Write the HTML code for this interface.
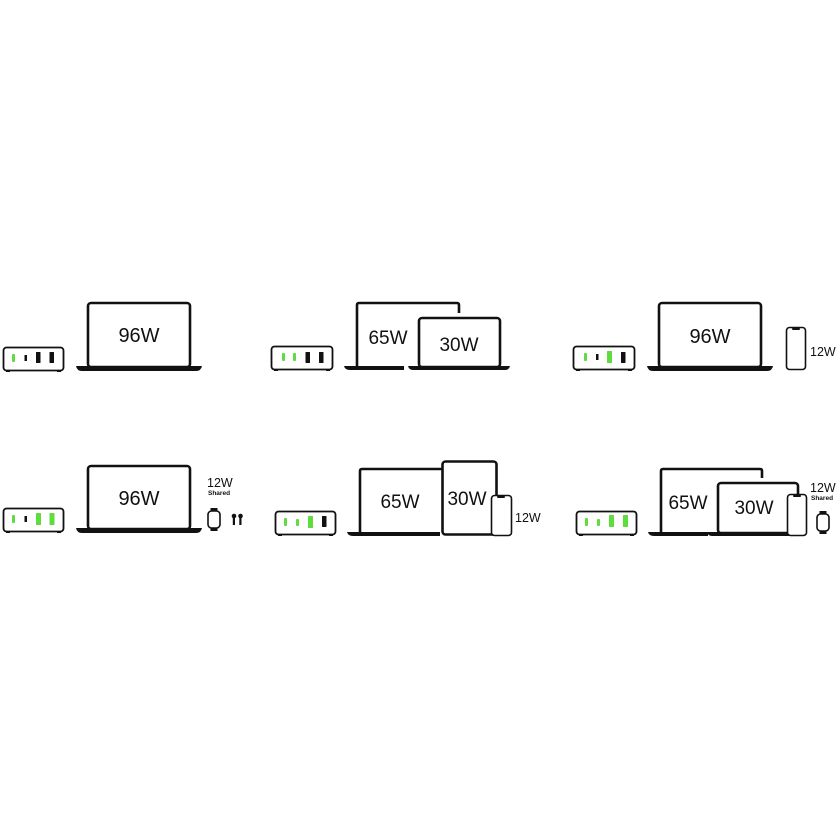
<!DOCTYPE html>
<html><head><meta charset="utf-8"><style>
html,body{margin:0;padding:0;background:#fff}
svg{display:block}
text{font-family:"Liberation Sans",sans-serif;fill:#111}
</style></head><body>
<svg width="840" height="840" viewBox="0 0 840 840" xmlns="http://www.w3.org/2000/svg">
<defs>
<style>
.scr{fill:#fff;stroke:#111;stroke-width:2.6}
.ch{fill:#fff;stroke:#111;stroke-width:1.8}
.g{fill:#5fdc3e}
.k{fill:#111}
.ph{fill:#fff;stroke:#111;stroke-width:1.6}
</style>
</defs>

<!-- ===== Panel 1 ===== -->
<rect class="ch" x="3.5" y="347.5" width="60" height="23" rx="3"/>
<rect class="k" x="6" y="370" width="4" height="2"/><rect class="k" x="57" y="370" width="4" height="2"/>
<rect class="g" x="12" y="354" width="3" height="8" rx="1"/>
<rect class="k" x="24.5" y="355" width="2.5" height="6"/>
<rect class="k" x="36" y="352" width="4.5" height="11" rx="0.5"/>
<rect class="k" x="49.5" y="352" width="4.5" height="11" rx="0.5"/>
<rect class="scr" x="88" y="303" width="102" height="64" rx="3"/>
<path class="k" d="M76 366 H202 Q201 371 196 371 H82 Q77 371 76 366Z"/>
<text x="139" y="342" font-size="20" text-anchor="middle">96W</text>

<!-- ===== Panel 2 ===== -->
<rect class="ch" x="271.5" y="346.5" width="61" height="23" rx="3"/>
<rect class="k" x="274" y="369" width="4" height="2"/><rect class="k" x="326" y="369" width="4" height="2"/>
<rect class="g" x="282" y="353" width="3" height="8" rx="1"/>
<rect class="g" x="293" y="353" width="3" height="8" rx="1"/>
<rect class="k" x="305.5" y="352" width="4.5" height="11" rx="0.5"/>
<rect class="k" x="319" y="352" width="4.5" height="11" rx="0.5"/>
<path d="M357 367 V305 Q357 303 359 303 H457 Q459 303 459 305 V313" fill="#fff" stroke="#111" stroke-width="2.6"/>
<path class="k" d="M344 366 H404 V370 H350 Q345 370 344 366Z"/>
<text x="388" y="344" font-size="19" text-anchor="middle">65W</text>
<rect class="scr" x="419" y="318" width="81" height="49" rx="3"/>
<path class="k" d="M408 366 H510 Q509 370 505 370 H413 Q409 370 408 366Z"/>
<text x="459" y="351" font-size="19" text-anchor="middle">30W</text>

<!-- ===== Panel 3 ===== -->
<rect class="ch" x="573.5" y="346.5" width="61" height="23" rx="3"/>
<rect class="k" x="576" y="369" width="4" height="2"/><rect class="k" x="628" y="369" width="4" height="2"/>
<rect class="g" x="584" y="353" width="3" height="8" rx="1"/>
<rect class="k" x="596" y="354" width="2.5" height="6"/>
<rect class="g" x="607" y="351" width="5" height="12" rx="0.5"/>
<rect class="k" x="621" y="352" width="4.5" height="11" rx="0.5"/>
<rect class="scr" x="659" y="303" width="102" height="64" rx="3"/>
<path class="k" d="M647 366 H773 Q772 371 767 371 H653 Q648 371 647 366Z"/>
<text x="710" y="343" font-size="20" text-anchor="middle">96W</text>
<rect class="ph" x="786.5" y="327.5" width="19" height="42" rx="3"/>
<rect class="k" x="792" y="328" width="8" height="2" rx="1"/>
<text x="810" y="356" font-size="12.5">12W</text>

<!-- ===== Panel 4 ===== -->
<rect class="ch" x="3.5" y="508.5" width="60" height="23" rx="3"/>
<rect class="k" x="6" y="531" width="4" height="2"/><rect class="k" x="57" y="531" width="4" height="2"/>
<rect class="g" x="12" y="515" width="3" height="8" rx="1"/>
<rect class="k" x="24.5" y="516" width="2.5" height="6"/>
<rect class="g" x="36" y="513" width="5" height="12" rx="0.5"/>
<rect class="g" x="49.5" y="513" width="5" height="12" rx="0.5"/>
<rect class="scr" x="88" y="466" width="102" height="63" rx="3"/>
<path class="k" d="M76 528 H202 Q201 533 196 533 H82 Q77 533 76 528Z"/>
<text x="139" y="505" font-size="20" text-anchor="middle">96W</text>
<text x="207" y="487" font-size="12.5">12W</text>
<text x="208" y="495" font-size="6.5" font-weight="bold">Shared</text>
<rect class="ph" x="208" y="511" width="12" height="17" rx="3.5" stroke-width="1.8"/>
<rect class="k" x="210.5" y="508" width="7" height="3"/><rect class="k" x="210.5" y="528" width="7" height="3"/>
<circle class="k" cx="234" cy="516" r="2.3"/><circle class="k" cx="240.5" cy="516" r="2.3"/>
<rect class="k" x="232.8" y="517" width="2.2" height="8"/><rect class="k" x="239.3" y="517" width="2.2" height="8"/>

<!-- ===== Panel 5 ===== -->
<rect class="ch" x="275.5" y="511.5" width="60" height="23" rx="3"/>
<rect class="k" x="278" y="534" width="4" height="2"/><rect class="k" x="329" y="534" width="4" height="2"/>
<rect class="g" x="284" y="518" width="3" height="8" rx="1"/>
<rect class="g" x="296" y="519" width="3" height="7" rx="1"/>
<rect class="g" x="308" y="516" width="5" height="12" rx="0.5"/>
<rect class="k" x="322" y="516" width="4.5" height="11" rx="0.5"/>
<path d="M360 533 V471 Q360 469 362 469 H443" fill="#fff" stroke="#111" stroke-width="2.6"/>
<path class="k" d="M347 532 H440 V536 H353 Q348 536 347 532Z"/>
<text x="400" y="508" font-size="19" text-anchor="middle">65W</text>
<rect class="scr" x="442.5" y="461.5" width="54" height="73" rx="3"/>
<text x="467" y="505" font-size="19" text-anchor="middle">30W</text>
<rect class="ph" x="491.5" y="495.5" width="20" height="40" rx="3"/>
<rect class="k" x="497" y="496" width="8" height="2" rx="1"/>
<text x="515" y="522" font-size="12.5">12W</text>

<!-- ===== Panel 6 ===== -->
<rect class="ch" x="576.5" y="511.5" width="60" height="23" rx="3"/>
<rect class="k" x="579" y="534" width="4" height="2"/><rect class="k" x="630" y="534" width="4" height="2"/>
<rect class="g" x="585" y="518" width="3" height="8" rx="1"/>
<rect class="g" x="597" y="519" width="3" height="7" rx="1"/>
<rect class="g" x="609" y="515" width="5" height="12" rx="0.5"/>
<rect class="g" x="623" y="515" width="5" height="12" rx="0.5"/>
<path d="M661 533 V471 Q661 469 663 469 H760 Q762 469 762 471 V478" fill="#fff" stroke="#111" stroke-width="2.6"/>
<path class="k" d="M648 532 H708 V536 H654 Q649 536 648 532Z"/>
<text x="688" y="509" font-size="19" text-anchor="middle">65W</text>
<rect class="scr" x="718" y="483" width="80" height="50" rx="3"/>
<path class="k" d="M707 532 H790 V536 H712 Q708 536 707 532Z"/>
<text x="754" y="514" font-size="19" text-anchor="middle">30W</text>
<rect class="ph" x="787.5" y="494.5" width="19" height="41" rx="3"/>
<rect class="k" x="793" y="495" width="8" height="2" rx="1"/>
<text x="810" y="492" font-size="12.5">12W</text>
<text x="811" y="500" font-size="6.5" font-weight="bold">Shared</text>
<rect class="ph" x="817" y="514" width="12" height="17" rx="3.5" stroke-width="1.8"/>
<rect class="k" x="819.5" y="511" width="7" height="3"/><rect class="k" x="819.5" y="531" width="7" height="3"/>
</svg>
</body></html>
